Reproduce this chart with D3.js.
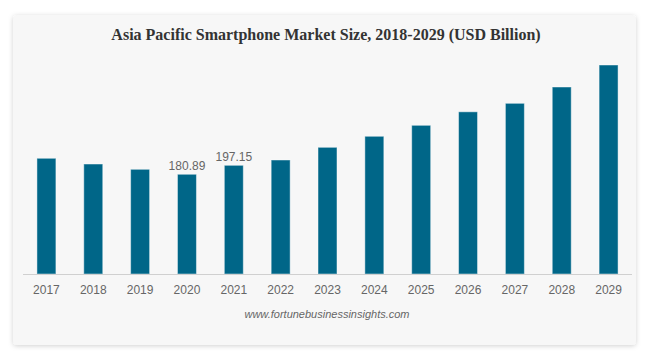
<!DOCTYPE html>
<html>
<head>
<meta charset="utf-8">
<script src="https://cdn.jsdelivr.net/npm/d3@7"></script>
<style>
html,body{margin:0;padding:0;background:#fff;}
svg{display:block;}
</style>
</head>
<body>
<svg id="chart" width="645" height="358"></svg>
<script>
const years = ["2017","2018","2019","2020","2021","2022","2023","2024","2025","2026","2027","2028","2029"];
const values = [209.9, 199.5, 189.9, 180.89, 197.15, 206.8, 229.8, 249.8, 269.7, 294.2, 309.6, 339.2, 379.1];
const labelledYears = ["2020", "2021"];
const title = "Asia Pacific Smartphone Market Size, 2018-2029 (USD Billion)";
const source = "www.fortunebusinessinsights.com";

const svg = d3.select("#chart");
const defs = svg.append("defs");
const f = defs.append("filter").attr("id","sh").attr("x","-5%").attr("y","-5%").attr("width","110%").attr("height","115%");
f.append("feDropShadow").attr("dx",0).attr("dy",1).attr("stdDeviation",2.5).attr("flood-color","#000").attr("flood-opacity",0.18);

svg.append("rect").attr("x",13).attr("y",15).attr("width",623).attr("height",330)
  .attr("rx",4).attr("fill","#f7f7f7").attr("filter","url(#sh)");

svg.append("text").attr("x",326).attr("y",40).attr("text-anchor","middle")
  .attr("font-family","'Liberation Serif','Times New Roman',serif").attr("font-weight","bold")
  .attr("font-size",16).attr("fill","#333").text(title);

const x = d3.scaleBand().domain(years).range([23, 632]).paddingInner(0.595).paddingOuter(0.2975);
const y = d3.scaleLinear().domain([0, 400]).range([274, 274 - 400*0.5513]);

const data = years.map((yr,i)=>({yr, v: values[i]}));

svg.append("g").selectAll("rect").data(data).join("rect")
  .attr("x", d=>x(d.yr)).attr("width", x.bandwidth())
  .attr("y", d=>y(d.v)).attr("height", d=>y(0)-y(d.v))
  .attr("fill","#006688").attr("stroke","rgba(255,255,255,0.45)").attr("stroke-width",1);

const xAxis = svg.append("g").attr("transform","translate(0,274.5)")
  .call(d3.axisBottom(x).tickSize(0).tickPadding(11));
xAxis.select(".domain").attr("stroke","#d0d0d0").attr("d","M23,0H632");
xAxis.selectAll("text").attr("font-family","'Liberation Sans',Arial,sans-serif").attr("font-size",12).attr("fill","#666");

svg.append("g").selectAll("text").data(data.filter(d=>labelledYears.includes(d.yr))).join("text")
  .attr("x", d=>x(d.yr)+x.bandwidth()/2).attr("y", d=>y(d.v)-4)
  .attr("text-anchor","middle").attr("font-family","'Liberation Sans',Arial,sans-serif")
  .attr("font-size",12).attr("fill","#666").text(d=>d.v.toFixed(2));

svg.append("text").attr("x",327).attr("y",318).attr("text-anchor","middle")
  .attr("font-family","'Liberation Sans',Arial,sans-serif").attr("font-style","italic")
  .attr("font-size",11).attr("fill","#666").text(source);
</script>
</body>
</html>
